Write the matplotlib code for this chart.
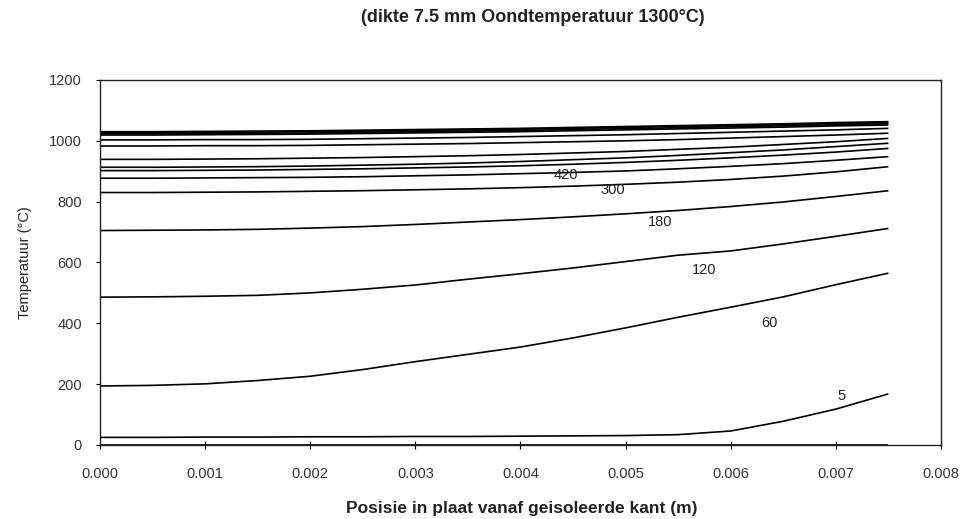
import matplotlib
matplotlib.use("Agg")
import matplotlib.pyplot as plt
import numpy as np

plt.rcParams['font.family'] = ['Liberation Sans', 'DejaVu Sans']

# Position across the plate (m), measured from the insulated side
positie = [0.0, 0.0005, 0.001, 0.0015, 0.002, 0.0025, 0.003, 0.0035,
           0.004, 0.0045, 0.005, 0.0055, 0.006, 0.0065, 0.007, 0.0075]

# Temperature profiles (°C) at successive times (s)
t0 = [0, 0, 0, 0, 0, 0, 0, 0, 0, 0, 0, 0, 0, 0, 0, 0]
t5 = [25, 25, 26, 26, 27, 27, 28, 28, 29, 30, 31, 34, 46, 78, 118, 168]
t60 = [194, 196, 201, 212, 226, 248, 274, 298, 322, 352, 385, 420, 453, 487, 527, 565]
t120 = [486, 487, 489, 492, 500, 512, 526, 545, 563, 582, 603, 624, 638, 661, 686, 712]
t180 = [705, 706, 707, 709, 713, 718, 725, 733, 741, 750, 760, 771, 784, 799, 817, 836]
t300 = [830, 830, 831, 832, 834, 836, 839, 842, 846, 851, 857, 864, 873, 884, 898, 915]
t420 = [877, 877, 878, 879, 880, 882, 885, 888, 892, 896, 901, 908, 916, 925, 936, 948]
t540 = [902, 902, 903, 904, 906, 908, 911, 914, 918, 923, 929, 936, 944, 953, 963, 975]
t660 = [913, 913, 914, 915, 917, 920, 923, 927, 932, 938, 944, 952, 961, 970, 981, 992]
t780 = [939, 939, 940, 941, 943, 945, 948, 951, 955, 960, 965, 972, 979, 988, 997, 1008]
t900 = [983, 983, 984, 984, 985, 987, 989, 991, 994, 997, 1000, 1004, 1009, 1014, 1019, 1025]
t1020 = [1003, 1003, 1004, 1004, 1005, 1007, 1009, 1011, 1014, 1017, 1020, 1024, 1028, 1032, 1036, 1041]
t1140 = [1019, 1019, 1020, 1021, 1022, 1024, 1026, 1028, 1030, 1033, 1036, 1039, 1042, 1045, 1049, 1052]
t1260 = [1023, 1023, 1024, 1025, 1026, 1028, 1030, 1032, 1034, 1037, 1040, 1043, 1046, 1049, 1053, 1056]
t1380 = [1027, 1027, 1028, 1029, 1030, 1032, 1034, 1036, 1038, 1041, 1044, 1047, 1050, 1053, 1057, 1060]
t1500 = [1030, 1030, 1031, 1032, 1033, 1035, 1037, 1039, 1041, 1044, 1047, 1050, 1053, 1056, 1060, 1063]

profielen = [t0, t5, t60, t120, t180, t300, t420, t540, t660, t780,
             t900, t1020, t1140, t1260, t1380, t1500]

# Time labels written next to the first curves
label_tekst = ["5", "60", "120", "180", "300", "420"]
label_x = [0.00705, 0.00637, 0.00575, 0.00533, 0.00488, 0.00443]
label_y = [161, 401, 575, 733, 838, 888]

x_ticks = [0.000, 0.001, 0.002, 0.003, 0.004, 0.005, 0.006, 0.007, 0.008]
y_ticks = [0, 200, 400, 600, 800, 1000, 1200]

fig = plt.figure(figsize=(9.66, 5.19), dpi=100)
ax = fig.add_axes([0.1035, 0.1426, 0.8706, 0.7033])

for prof in profielen:
    ax.plot(positie, prof, color='black', linewidth=1.2, solid_capstyle='butt')

for txt, lx, ly in zip(label_tekst, label_x, label_y):
    ax.text(lx, ly, txt, fontsize=10.5, color='#222222', ha='center', va='center')

ax.set_xlim(0, 0.008)
ax.set_ylim(0, 1200)
ax.set_xticks(x_ticks)
ax.set_xticklabels([f"{v:.3f}" for v in x_ticks])
ax.set_yticks(y_ticks)
ax.set_yticklabels([str(v) for v in y_ticks])
ax.tick_params(axis='x', direction='inout', length=6, width=0.8,
               pad=13, labelsize=10.5, labelcolor='#333333')
ax.tick_params(axis='y', direction='out', length=3, width=0.8,
               pad=10, labelsize=10.5, labelcolor='#333333')
for sp in ax.spines.values():
    sp.set_color('#222222')
    sp.set_linewidth(1.0)

fig.text(522 / 966, 1 - 508 / 519, "Posisie in plaat vanaf geisoleerde kant (m)",
         fontsize=12.5, fontweight='bold', color='#222222',
         ha='center', va='center')
ax.set_ylabel("Temperatuur (°C)", fontsize=10.5, color='#222222', labelpad=12)

fig.text(533 / 966, 1 - 17 / 519, "(dikte 7.5 mm Oondtemperatuur 1300°C)",
         fontsize=13, fontweight='bold', color='#222222',
         ha='center', va='center')

fig.savefig("out.png", dpi=100, facecolor='white')
